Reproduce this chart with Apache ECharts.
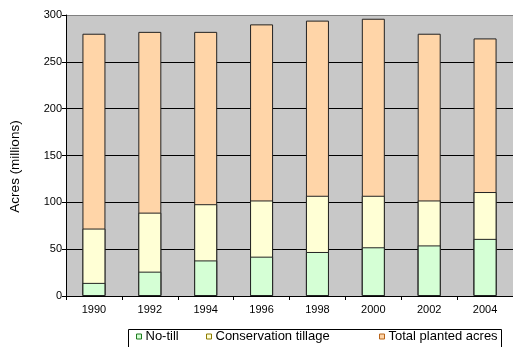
<!DOCTYPE html>
<html>
<head>
<meta charset="utf-8">
<script src="https://cdn.jsdelivr.net/npm/echarts@6/dist/echarts.min.js"></script>
<style>
  html, body { margin: 0; padding: 0; background: #fff; }
  #chart { width: 513px; height: 347px; }
</style>
</head>
<body>
<div id="chart"></div>
<script>
// Planted acreage by tillage practice, millions of acres
const years = ['1990', '1992', '1994', '1996', '1998', '2000', '2002', '2004'];
const noTill = [14, 26, 38, 42, 47, 52, 54, 61];
const conservationTillage = [72, 89, 98, 102, 107, 107, 102, 111];
const totalPlanted = [280, 282, 282, 290, 294, 296, 280, 275];

const yTicks = [0, 50, 100, 150, 200, 250, 300];

const FONT = '"Liberation Sans", Arial, sans-serif';
const colors = {
  total: { fill: '#FFD5A8', edge: '#B8641A' },
  cons: { fill: '#FFFFD5', edge: '#8C7A00' },
  notill: { fill: '#D5FFD5', edge: '#1E7A1E' }
};

const chart = echarts.init(document.getElementById('chart'), null, { renderer: 'canvas' });

function legendFor(name, c, left) {
  return {
    left: left, top: 325,
    itemWidth: 5, itemHeight: 5, itemGap: 0,
    icon: 'rect',
    selectedMode: false,
    textStyle: { fontFamily: FONT, fontSize: 13, color: '#000', padding: [0, 0, 0, -1] },
    data: [{ name: name, itemStyle: { color: c.fill, borderColor: c.edge, borderWidth: 1 } }]
  };
}

const barBase = { type: 'bar', barWidth: 23, barGap: '-100%', animation: false };

chart.setOption({
  animation: false,
  graphic: [{
    type: 'rect', left: 126, top: 327,
    shape: { width: 373, height: 30 },
    style: { fill: 'none', stroke: '#000', lineWidth: 1 },
    z: 10
  }],
  grid: {
    left: 65, right: 0, top: 15, bottom: 51,
    show: true, backgroundColor: '#C8C8C8', borderWidth: 0
  },
  legend: [
    legendFor('No-till', colors.notill, 131),
    legendFor('Conservation tillage', colors.cons, 201),
    legendFor('Total planted acres', colors.total, 374)
  ],
  xAxis: {
    type: 'category',
    data: years,
    axisLine: { lineStyle: { color: '#000', width: 1 } },
    axisTick: { show: true, alignWithLabel: false, length: 4, lineStyle: { color: '#000' } },
    axisLabel: { fontFamily: FONT, fontSize: 11, color: '#000', margin: 8 }
  },
  yAxis: {
    type: 'value',
    min: yTicks[0], max: yTicks[yTicks.length - 1], interval: 50,
    name: 'Acres (millions)',
    nameLocation: 'middle',
    nameGap: 44,
    nameTextStyle: { fontFamily: FONT, fontSize: 13.5, color: '#000', padding: [0, 22, 0, 0] },
    axisLine: { show: true, lineStyle: { color: '#000', width: 1 } },
    axisTick: { show: true, length: 4, lineStyle: { color: '#000' } },
    axisLabel: { fontFamily: FONT, fontSize: 11, color: '#000', margin: 4 },
    splitLine: {
      show: true,
      lineStyle: { color: ['#000', '#000', '#000', '#000', '#000', '#000', '#808080'], width: 1 }
    }
  },
  series: [
    Object.assign({}, barBase, {
      name: 'Total planted acres', data: totalPlanted, z: 2,
      itemStyle: { color: colors.total.fill, borderColor: '#222', borderWidth: 1 }
    }),
    Object.assign({}, barBase, {
      name: 'Conservation tillage', data: conservationTillage, z: 3,
      itemStyle: { color: colors.cons.fill, borderColor: '#222', borderWidth: 1 }
    }),
    Object.assign({}, barBase, {
      name: 'No-till', data: noTill, z: 4,
      itemStyle: { color: colors.notill.fill, borderColor: '#222', borderWidth: 1 }
    })
  ]
});
</script>
</body>
</html>
